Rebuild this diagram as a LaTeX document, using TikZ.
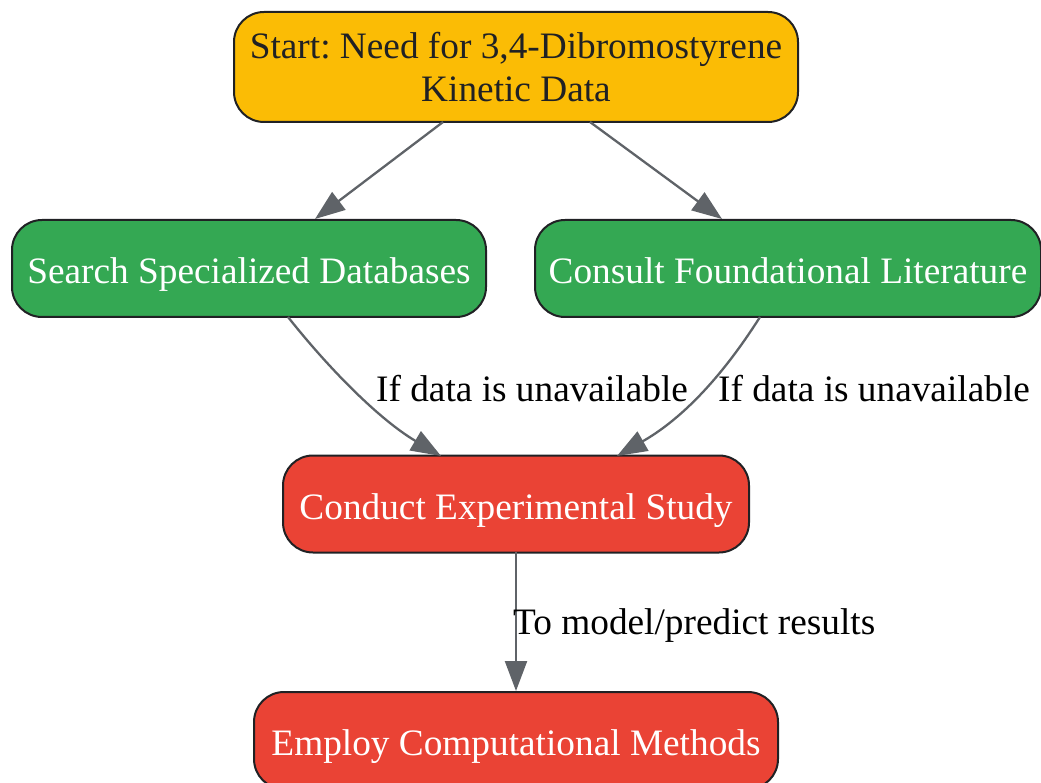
\documentclass[tikz,border=0pt]{standalone}
\usepackage{fontspec}
\setmainfont{Liberation Serif}
\usetikzlibrary{arrows.meta}
\definecolor{cyellow}{HTML}{FBBC05}
\definecolor{cgreen}{HTML}{34A853}
\definecolor{cred}{HTML}{EA4335}
\definecolor{cborder}{HTML}{202124}
\definecolor{cedge}{HTML}{5F6368}
\frenchspacing
\tikzset{
  box/.style={draw=cborder, line width=2pt, rounded corners=30pt, minimum height=97pt,
    inner sep=0pt, align=center, font=\fontsize{37.3}{43}\selectfont\frenchspacing},
  startbox/.style={box, fill=cyellow, text=cborder, minimum height=110pt},
  onebox/.style={box, text height=33pt, text depth=3pt},
  greenbox/.style={onebox, fill=cgreen, text=white},
  redbox/.style={onebox, fill=cred, text=white},
  conn/.style={draw=cedge, line width=2.3pt, -{Triangle[length=30pt,width=22pt]}},
  lab/.style={font=\fontsize{37.3}{43}\selectfont, text=black, inner sep=0pt}
}
\begin{document}
\begin{tikzpicture}[x=1pt,y=-1pt]
\useasboundingbox (0,0) rectangle (1041,783);
\node[startbox, minimum width=564pt] (start) at (516,67) {Start: Need for 3,4-Dibromostyrene\\Kinetic Data};
\node[greenbox, minimum width=474pt] (search) at (249,268.5) {Search Specialized Databases};
\node[greenbox, minimum width=506pt] (consult) at (788,268.5) {Consult Foundational Literature};
\node[redbox, minimum width=466pt] (conduct) at (516,504) {Conduct Experimental Study};
\node[redbox, minimum width=524pt] (employ) at (516,740.5) {Employ Computational Methods};

\coordinate (s1) at (443,122);
\coordinate (s2) at (590,122);
\coordinate (t1) at (315,219);
\coordinate (t2) at (722,219);
\draw[conn] (s1) -- (t1);
\draw[conn] (s2) -- (t2);

\coordinate (a1) at (288,317);
\coordinate (b1) at (441,456);
\coordinate (a2) at (760,317);
\coordinate (b2) at (617,456);
\draw[conn] (a1) .. controls (330,370) and (380,420) .. (b1);
\draw[conn] (a2) .. controls (720,380) and (680,420) .. (b2);

\coordinate (c1) at (516,552);
\coordinate (d1) at (516,691);
\draw[conn] (c1) -- (d1);

\node[lab] (l1) at (532,389) {If data is unavailable};
\node[lab] (l2) at (874,389) {If data is unavailable};
\node[lab, anchor=west] (l3) at (513,626) {To model/predict results};
\end{tikzpicture}
\end{document}
